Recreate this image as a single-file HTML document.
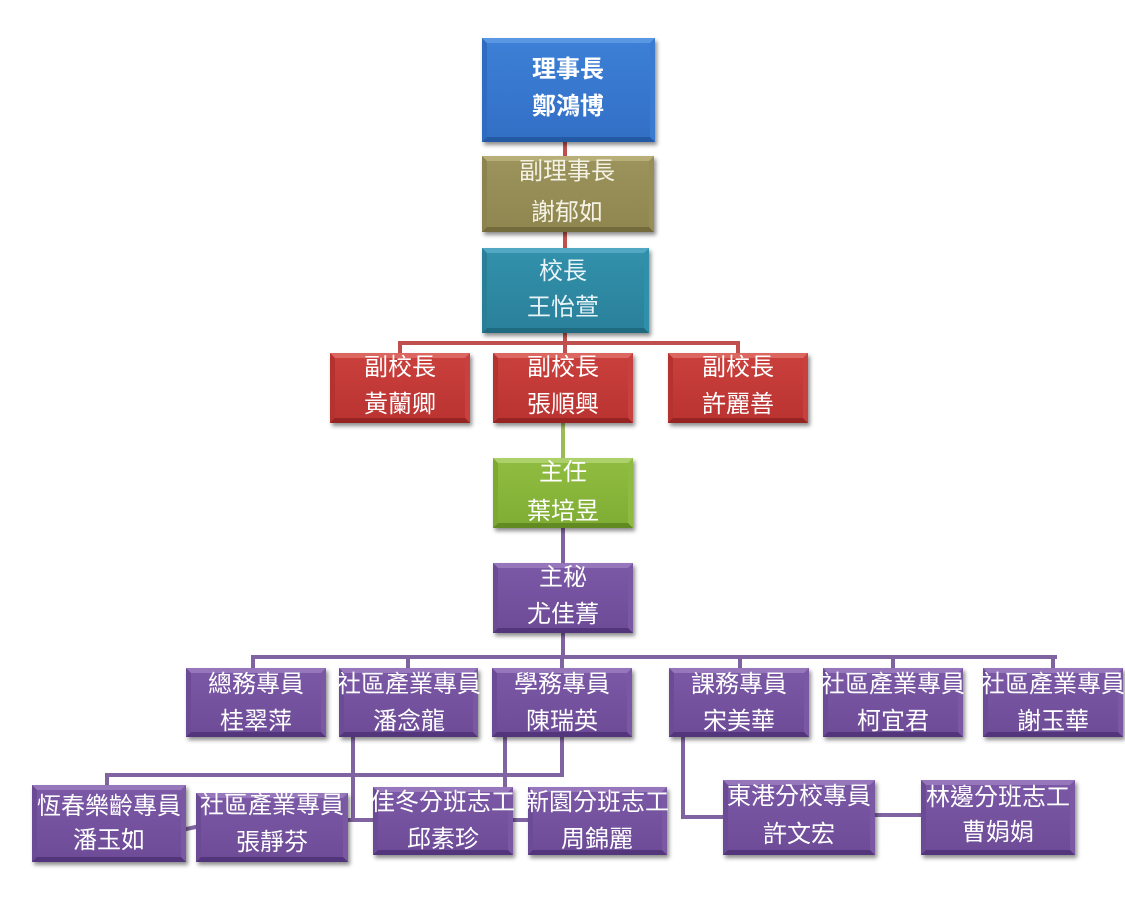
<!DOCTYPE html>
<html><head><meta charset="utf-8">
<style>
html,body{margin:0;padding:0;background:#fff;}
body{width:1125px;height:905px;position:relative;overflow:hidden;font-family:"Liberation Sans","Noto Sans CJK TC",sans-serif;}
.l{position:absolute;}
.r{background:#c0504d;}
.g{background:#9bbb59;}
.p{background:#8064a2;}
.b{position:absolute;box-sizing:border-box;border-style:solid;border-width:5px;box-shadow:2px 3px 4px rgba(0,0,0,0.45);}
.t{position:absolute;white-space:nowrap;color:#fff;font-size:24px;line-height:26px;height:26px;transform:translateX(-50%);text-align:center;}
.blue{background:linear-gradient(#3d7fd6,#3270c6);border-color:#5a98e4 #3a7ad0 #245aa4 #2f6bc0;}
.olive{background:linear-gradient(#9c935c,#8f8650);border-color:#b8af78 #988f58 #746b3c #8c834e;}
.teal{background:linear-gradient(#3290aa,#2a819b);border-color:#52a8c2 #3090aa #1f6a80 #2a7f98;}
.red{background:linear-gradient(#c93f3c,#bb3432);border-color:#dc6660 #c84040 #962422 #b43230;}
.green{background:linear-gradient(#8fbc40,#80ad34);border-color:#add06a #8ebc42 #628a22 #7da832;}
.pur{background:linear-gradient(#7b58a5,#6e4c98);border-color:#9677bb #7a58a4 #52357a #6c4b96;}
</style></head><body>

<!-- connectors -->
<div class="l r" style="left:563px;top:142px;width:4px;height:15px"></div>
<div class="l r" style="left:563px;top:231px;width:4px;height:18px"></div>
<div class="l r" style="left:563px;top:332px;width:4px;height:22px"></div>
<div class="l r" style="left:398px;top:341px;width:342px;height:4px"></div>
<div class="l r" style="left:398px;top:341px;width:4px;height:13px"></div>
<div class="l r" style="left:736px;top:341px;width:4px;height:13px"></div>
<div class="l g" style="left:561px;top:422px;width:4px;height:37px"></div>
<div class="l p" style="left:561px;top:527px;width:4px;height:37px"></div>
<div class="l p" style="left:561px;top:632px;width:4px;height:26px"></div>
<div class="l p" style="left:251px;top:655px;width:806px;height:4px"></div>
<div class="l p" style="left:251px;top:655px;width:4px;height:14px"></div>
<div class="l p" style="left:406px;top:655px;width:4px;height:14px"></div>
<div class="l p" style="left:560px;top:655px;width:4px;height:14px"></div>
<div class="l p" style="left:738px;top:655px;width:4px;height:14px"></div>
<div class="l p" style="left:891px;top:655px;width:4px;height:14px"></div>
<div class="l p" style="left:1051px;top:655px;width:4px;height:14px"></div>
<div class="l p" style="left:351px;top:736px;width:4px;height:86px"></div>
<div class="l p" style="left:346px;top:818px;width:28px;height:4px"></div>
<div class="l p" style="left:560px;top:736px;width:4px;height:41px"></div>
<div class="l p" style="left:105px;top:773px;width:459px;height:4px"></div>
<div class="l p" style="left:105px;top:773px;width:4px;height:13px"></div>
<div class="l p" style="left:503px;top:736px;width:4px;height:52px"></div>
<div class="l p" style="left:512px;top:818px;width:17px;height:4px"></div>
<div class="l p" style="left:185px;top:826px;width:12px;height:4px;transform:rotate(-12deg)"></div>
<div class="l p" style="left:681px;top:736px;width:4px;height:83px"></div>
<div class="l p" style="left:681px;top:815px;width:43px;height:4px"></div>
<div class="l p" style="left:874px;top:813px;width:48px;height:4px"></div>

<!-- boxes -->
<div class="b blue" style="left:482px;top:38px;width:173px;height:104px"></div>
<div class="t" style="left:568px;top:57px;font-weight:bold">理事長</div>
<div class="t" style="left:568px;top:94px;font-weight:bold">鄭鴻博</div>

<div class="b olive" style="left:482px;top:156px;width:172px;height:76px"></div>
<div class="t" style="left:567px;top:159px;color:#f4f2e4">副理事長</div>
<div class="t" style="left:567px;top:200px;color:#f4f2e4">謝郁如</div>

<div class="b teal" style="left:482px;top:248px;width:167px;height:85px"></div>
<div class="t" style="left:563px;top:259px;color:#e8f4f8">校長</div>
<div class="t" style="left:563px;top:295px;color:#e8f4f8">王怡萱</div>

<div class="b red" style="left:330px;top:353px;width:140px;height:70px"></div>
<div class="t" style="left:400px;top:355px">副校長</div>
<div class="t" style="left:400px;top:392px">黃蘭卿</div>
<div class="b red" style="left:493px;top:353px;width:140px;height:70px"></div>
<div class="t" style="left:563px;top:355px">副校長</div>
<div class="t" style="left:563px;top:392px">張順興</div>
<div class="b red" style="left:668px;top:353px;width:140px;height:70px"></div>
<div class="t" style="left:738px;top:355px">副校長</div>
<div class="t" style="left:738px;top:392px">許麗善</div>

<div class="b green" style="left:493px;top:458px;width:140px;height:70px"></div>
<div class="t" style="left:563px;top:460px">主任</div>
<div class="t" style="left:563px;top:499px">葉培昱</div>

<div class="b pur" style="left:493px;top:563px;width:140px;height:70px"></div>
<div class="t" style="left:563px;top:565px">主秘</div>
<div class="t" style="left:563px;top:602px">尤佳菁</div>

<div class="b pur" style="left:186px;top:668px;width:140px;height:69px"></div>
<div class="t" style="left:256px;top:672px">總務專員</div>
<div class="t" style="left:256px;top:709px">桂翠萍</div>
<div class="b pur" style="left:339px;top:668px;width:139px;height:69px"></div>
<div class="t" style="left:409px;top:672px">社區產業專員</div>
<div class="t" style="left:409px;top:709px">潘念龍</div>
<div class="b pur" style="left:492px;top:668px;width:140px;height:69px"></div>
<div class="t" style="left:562px;top:672px">學務專員</div>
<div class="t" style="left:562px;top:709px">陳瑞英</div>
<div class="b pur" style="left:669px;top:668px;width:140px;height:69px"></div>
<div class="t" style="left:739px;top:672px">課務專員</div>
<div class="t" style="left:739px;top:709px">宋美華</div>
<div class="b pur" style="left:823px;top:668px;width:140px;height:69px"></div>
<div class="t" style="left:893px;top:672px">社區產業專員</div>
<div class="t" style="left:893px;top:709px">柯宜君</div>
<div class="b pur" style="left:983px;top:668px;width:140px;height:69px"></div>
<div class="t" style="left:1053px;top:672px">社區產業專員</div>
<div class="t" style="left:1053px;top:709px">謝玉華</div>

<div class="b pur" style="left:32px;top:785px;width:154px;height:77px"></div>
<div class="t" style="left:109px;top:794px">恆春樂齡專員</div>
<div class="t" style="left:109px;top:828px">潘玉如</div>
<div class="b pur" style="left:196px;top:793px;width:152px;height:69px"></div>
<div class="t" style="left:272px;top:793px">社區產業專員</div>
<div class="t" style="left:272px;top:830px">張靜芬</div>
<div class="b pur" style="left:373px;top:787px;width:140px;height:68px"></div>
<div class="t" style="left:443px;top:790px">佳冬分班志工</div>
<div class="t" style="left:443px;top:827px">邱素珍</div>
<div class="b pur" style="left:528px;top:787px;width:139px;height:68px"></div>
<div class="t" style="left:597px;top:790px">新園分班志工</div>
<div class="t" style="left:597px;top:827px">周錦麗</div>
<div class="b pur" style="left:723px;top:780px;width:152px;height:75px"></div>
<div class="t" style="left:799px;top:784px">東港分校專員</div>
<div class="t" style="left:799px;top:822px">許文宏</div>
<div class="b pur" style="left:921px;top:780px;width:154px;height:75px"></div>
<div class="t" style="left:998px;top:785px">林邊分班志工</div>
<div class="t" style="left:998px;top:820px">曹娟娟</div>

</body></html>
